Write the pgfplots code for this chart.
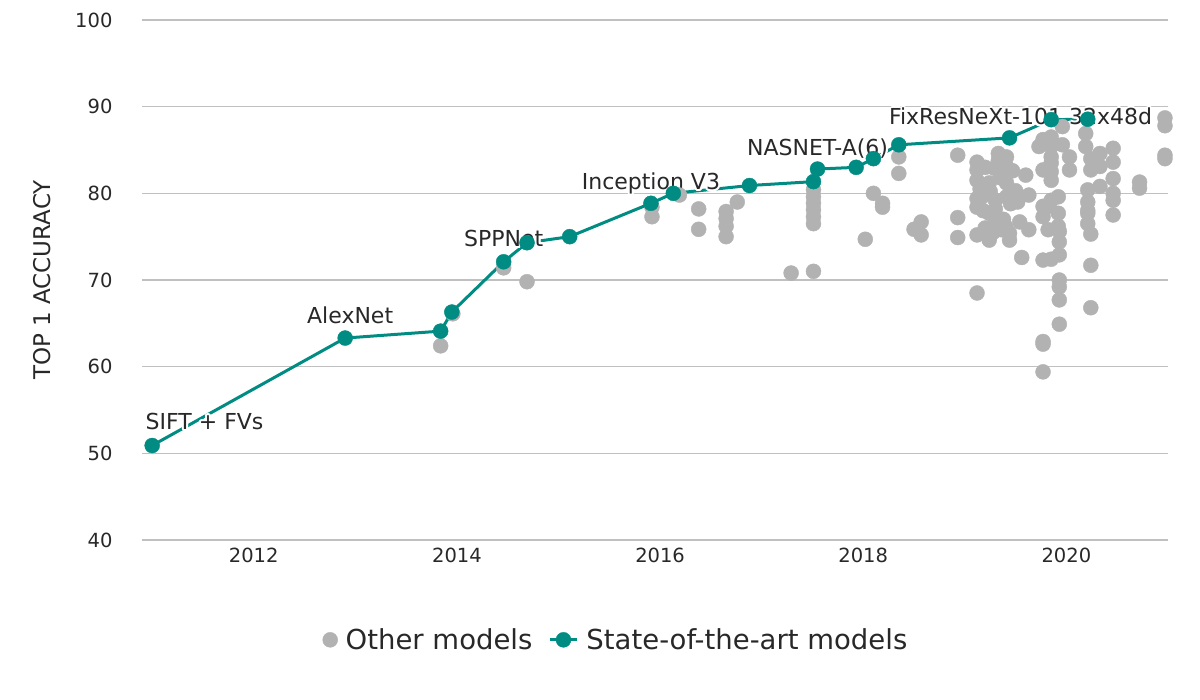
\documentclass[border=0pt]{standalone}
\usepackage{pgfplots}
\pgfplotsset{compat=1.18}
\usepackage{fontspec}
\setmainfont{DejaVu Sans}
\usepackage{contour}
\contourlength{2pt}
\definecolor{sota}{RGB}{0,140,130}
\definecolor{other}{RGB}{178,178,178}
\definecolor{gridc}{RGB}{192,192,192}
\definecolor{txt}{RGB}{40,40,40}
\pgfplotsset{sotalegend/.style={legend image code/.code={\draw[mark repeat=2,mark phase=2,#1]
        plot coordinates {(0pt,0pt) (13.5pt,0pt) (27pt,0pt)};}}}

\begin{document}
\begin{tikzpicture}
\path[use as bounding box] (-142pt,-160pt) rectangle (1058pt,540pt);
\begin{axis}[
    at={(0,0)}, anchor=south west,
    scale only axis, width=1026pt, height=520pt,
    xmin=2010.9, xmax=2021, ymin=40, ymax=100,
    xtick={2012,2014,...,2020}, ytick={40,50,...,100},
    /pgf/number format/1000 sep={},
    /pgf/number format/assume math mode=true,
    axis line style={draw=none},
    major tick length=0pt,
    ymajorgrids, major grid style={gridc, line width=1.5pt},
    ticklabel style={font=\fontsize{19.5}{22}\selectfont, text=txt},
    yticklabel style={xshift=-26pt},
    xticklabel style={yshift=-4pt},
    ylabel={TOP 1 ACCURACY},
    ylabel style={at={(axis description cs:-0.0975,0.5)}, anchor=center,
        font=\fontsize{23}{26}\selectfont, text=txt},
    clip=false,
    legend style={at={(axis description cs:0.462,-0.192)}, anchor=center,
        draw=none, fill=none, legend columns=2,
        font=\fontsize{27.5}{32}\selectfont, text=txt,
        /tikz/every odd column/.append style={column sep=6pt},
        /tikz/every even column/.append style={column sep=14pt}},
    legend cell align=left,
]
\addplot[only marks, mark=*, mark size=7.5pt, color=other] coordinates {
(2013.84,62.4) (2013.96,66.1) (2014.46,71.4) (2014.69,69.8)
(2015.92,78.4) (2015.92,77.3) (2016.19,79.8) (2016.38,78.2) (2016.38,75.85)
(2016.65,77.9) (2016.65,77.1) (2016.65,76.2) (2016.65,75.0) (2016.76,79.0)
(2017.29,70.8) (2017.51,71.0) (2017.51,80.4) (2017.51,79.6) (2017.51,78.85)
(2017.51,78.1) (2017.51,77.3) (2017.51,76.5)
(2018.10,80.0) (2018.19,78.85) (2018.19,78.4) (2018.02,74.7)
(2018.35,84.2) (2018.35,82.3) (2018.57,76.7) (2018.57,75.2) (2018.50,75.85)
(2018.93,84.4) (2018.93,77.2) (2018.93,74.9)
(2019.12,83.6) (2019.12,82.7) (2019.12,81.5) (2019.12,79.4) (2019.12,78.4)
(2019.12,75.2) (2019.12,68.5)
(2019.15,80.5) (2019.20,83.0) (2019.25,80.2) (2019.30,78.2) (2019.35,81.8)
(2019.38,77.0) (2019.45,78.8) (2019.50,80.3) (2019.20,76.0) (2019.28,75.5)
(2019.47,82.6) (2019.52,79.0) (2019.18,78.0) (2019.33,83.8) (2019.40,76.2)
(2019.33,84.6) (2019.41,84.2) (2019.41,83.1) (2019.41,81.2) (2019.41,79.6)
(2019.29,82.9) (2019.24,81.2) (2019.24,77.7) (2019.24,74.8) (2019.24,74.6)
(2019.17,79.6) (2019.30,79.2) (2019.30,76.9) (2019.36,75.8) (2019.44,75.4)
(2019.44,74.6) (2019.54,76.7) (2019.56,72.6) (2019.60,82.1) (2019.63,79.8)
(2019.63,75.8) (2019.73,85.4)
(2019.77,86.2) (2019.77,82.7) (2019.77,78.5) (2019.77,77.3) (2019.77,72.3)
(2019.77,62.6) (2019.77,59.4) (2019.77,62.9)
(2019.82,78.5) (2019.82,75.8)
(2019.85,85.4) (2019.85,86.5) (2019.85,84.2) (2019.85,83.5) (2019.85,82.5)
(2019.85,81.5) (2019.85,79.2) (2019.85,72.4)
(2019.92,79.6) (2019.92,77.7) (2019.92,76.2)
(2019.93,75.6) (2019.93,74.4) (2019.93,72.9) (2019.93,70.0) (2019.93,69.2)
(2019.93,67.7) (2019.93,64.9)
(2019.96,87.7) (2019.96,85.6) (2020.03,84.2) (2020.03,82.7)
(2020.19,86.9) (2020.19,85.4) (2020.21,80.4) (2020.21,79.0) (2020.21,78.0)
(2020.21,77.7) (2020.21,76.5)
(2020.24,84.0) (2020.24,82.7) (2020.24,75.3) (2020.24,71.7) (2020.24,66.8)
(2020.33,84.6) (2020.33,83.1) (2020.33,80.8)
(2020.46,85.2) (2020.46,83.6) (2020.46,81.7) (2020.46,80.0) (2020.46,79.2)
(2020.46,77.5)
(2020.72,81.3) (2020.72,80.6)
(2020.97,88.7) (2020.97,87.8) (2020.97,84.4) (2020.97,84.0)
};
\addlegendentry{Other models}
\addplot[color=sota, line width=3pt, mark=*, mark size=7.5pt,
    mark options={line width=0.4pt}, sotalegend] coordinates {
(2011.0,50.9) (2012.90,63.3) (2013.84,64.1) (2013.95,66.3) (2014.46,72.1)
(2014.69,74.3) (2015.11,75.0) (2015.91,78.85) (2016.13,80.0) (2016.88,80.9)
(2017.51,81.35) (2017.55,82.8) (2017.93,83.0) (2018.10,84.0) (2018.35,85.6)
(2019.44,86.4) (2019.85,88.5) (2020.21,88.55)
};
\addlegendentry{State-of-the-art models}

\begin{scope}[every node/.style={font=\fontsize{22}{26}\selectfont, text=txt}]
\node[anchor=base west, xshift=-10pt, yshift=16pt] at (axis cs:2011.0,50.9) {\contour{white}{SIFT + FVs}};
\node[anchor=base, xshift=5pt, yshift=15pt] at (axis cs:2012.90,63.3) {\contour{white}{AlexNet}};
\node[anchor=base, yshift=15pt] at (axis cs:2014.46,72.1) {\contour{white}{SPPNet}};
\node[anchor=base, yshift=14pt] at (axis cs:2015.91,78.85) {\contour{white}{Inception V3}};
\node[anchor=base, yshift=14pt] at (axis cs:2017.55,82.8) {\contour{white}{NASNET-A(6)}};
\node[anchor=base, xshift=11pt, yshift=13pt] at (axis cs:2019.44,86.4) {\contour{white}{FixResNeXt-101 32x48d}};
\end{scope}
\end{axis}
\end{tikzpicture}
\end{document}
